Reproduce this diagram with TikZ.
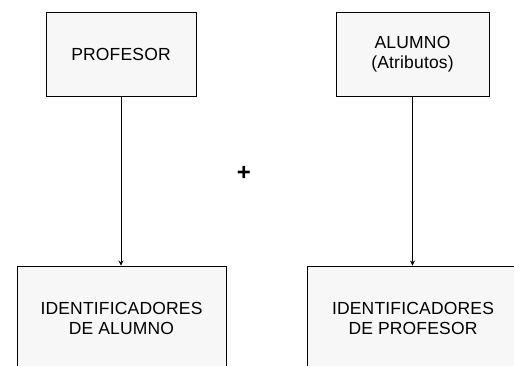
\documentclass[tikz,border=0pt]{standalone}
\usepackage{fontspec}
\setmainfont{Liberation Sans}
\newfontfamily\lsfont[LetterSpace=1]{Liberation Sans}
\usetikzlibrary{arrows.meta}
\begin{document}
\begin{tikzpicture}[x=1pt,y=-1pt,
  box/.style={draw=black,line width=0.9pt,fill=black!3,inner sep=0pt,align=center,font=\lsfont\fontsize{17.5}{20}\selectfont},
  conn/.style={line width=0.8pt,-{Stealth[length=5pt,width=5pt]}}]
\clip (0,0) rectangle (514,366);
\fill[white] (0,0) rectangle (514,366);
\node[box,minimum width=150pt,minimum height=84pt] (prof) at (121,54) {PROFESOR};
\node[box,minimum width=153pt,minimum height=84pt] (alum) at (412.5,54) {ALUMNO\\(Atributos)};
\node[box,minimum width=209pt,minimum height=104pt] (idal) at (121.5,318) {IDENTIFICADORES\\DE ALUMNO};
\node[box,minimum width=212pt,minimum height=104pt] (idpr) at (413,318) {IDENTIFICADORES\\DE PROFESOR};
\node[font=\bfseries\fontsize{24}{24}\selectfont,inner sep=0pt] (plus) at (244,173) {+};
\draw[conn] (prof.south) -- (prof.south |- idal.north);
\draw[conn] (alum.south) -- (alum.south |- idpr.north);
\end{tikzpicture}
\end{document}
